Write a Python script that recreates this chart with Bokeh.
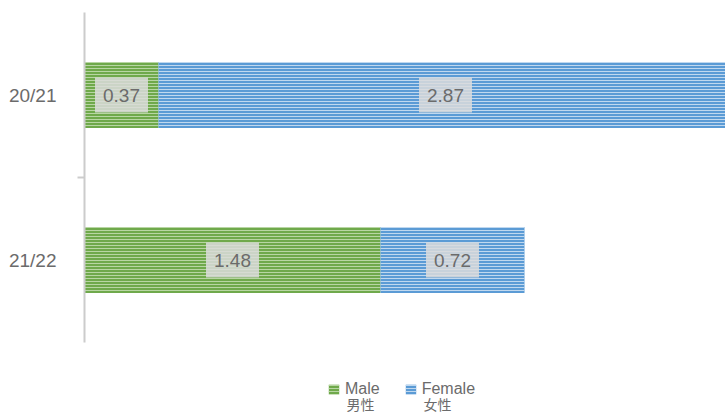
from bokeh.plotting import figure
from bokeh.models import (Range1d, FixedTicker, ColumnDataSource, Legend,
                          LegendItem, Label)
from bokeh.core.properties import value
from bokeh.embed import file_html
from bokeh.resources import INLINE

# Season split of the totals, male vs female
seasons = ["20/21", "21/22"]
male = [0.37, 1.48]
female = [2.87, 0.72]
cjk_names = ["男性", "女性"]

GREEN, GREEN_LT = "#6fa94b", "#b8d6a3"
BLUE, BLUE_LT = "#5b9bd5", "#c0d8ef"
TEXT = "#6b6b6b"
FONT = "Liberation Sans"

n = len(seasons)
ypos = [n - i - 0.5 for i in range(n)]
src = ColumnDataSource(dict(
    y=ypos,
    male=male,
    total=[m + f for m, f in zip(male, female)],
    male_mid=[m / 2 for m in male],
    female_mid=[m + f / 2 for m, f in zip(male, female)],
    male_txt=[f"{v:.2f}" for v in male],
    female_txt=[f"{v:.2f}" for v in female],
))

# the plotting area runs to the bottom edge so the legend can live inside it;
# the extra room below the bars is the strip under y = 0
p = figure(width=725, height=413, output_backend="svg", toolbar_location=None,
           x_range=Range1d(0, 3.205), y_range=Range1d(-71 / 165, n),
           min_border_left=84, min_border_right=0, min_border_top=12,
           min_border_bottom=0, outline_line_color=None)
p.grid.visible = False
p.xaxis.visible = False

ax = p.yaxis[0]
ax.bounds = (0, n)
ax.ticker = FixedTicker(ticks=ypos, minor_ticks=[float(k) for k in range(1, n)])
ax.major_label_overrides = {y: s for y, s in zip(ypos, seasons)}
ax.major_tick_line_color = None
ax.minor_tick_out = 7
ax.minor_tick_in = 0
ax.minor_tick_line_color = "#cccccc"
ax.minor_tick_line_width = 2
ax.axis_line_color = "#cccccc"
ax.axis_line_width = 2
ax.major_label_standoff = 21
ax.major_label_text_font = FONT
ax.major_label_text_font_size = "19px"
ax.major_label_text_color = TEXT

bar_kw = dict(height=0.4, line_color=None, hatch_pattern="-", hatch_scale=3,
              hatch_weight=1, source=src)
r_m = p.hbar(y="y", left=0, right="male", fill_color=GREEN,
             hatch_color=GREEN_LT, **bar_kw)
r_f = p.hbar(y="y", left="male", right="total", fill_color=BLUE,
             hatch_color=BLUE_LT, **bar_kw)

txt_kw = dict(y="y", source=src, text_align="center", text_baseline="middle",
              text_font=value(FONT), text_font_size="19px", text_color=TEXT,
              background_fill_color="#dcdcdc", background_fill_alpha=0.85,
              padding=dict(left=8, right=8, top=11, bottom=11))
p.text(x="male_mid", text="male_txt", **txt_kw)
p.text(x="female_mid", text="female_txt", **txt_kw)

legend = Legend(items=[LegendItem(label="Male", renderers=[r_m]),
                       LegendItem(label="Female", renderers=[r_f])],
                orientation="horizontal", location=(243, 15),
                glyph_width=13, glyph_height=12, label_standoff=5, spacing=24,
                padding=0, margin=0, border_line_color=None,
                background_fill_alpha=0, label_text_font=FONT,
                label_text_font_size="16px", label_text_color=TEXT,
                label_height=12)
p.add_layout(legend)

for x, name in zip([262, 339], cjk_names):
    p.add_layout(Label(x=x, y=20, x_units="screen", y_units="screen",
                       text=name, text_font="Noto Sans CJK SC",
                       text_font_size="14px", text_color=TEXT,
                       text_baseline="top"))

open("out.html", "w").write(file_html(p, INLINE))
